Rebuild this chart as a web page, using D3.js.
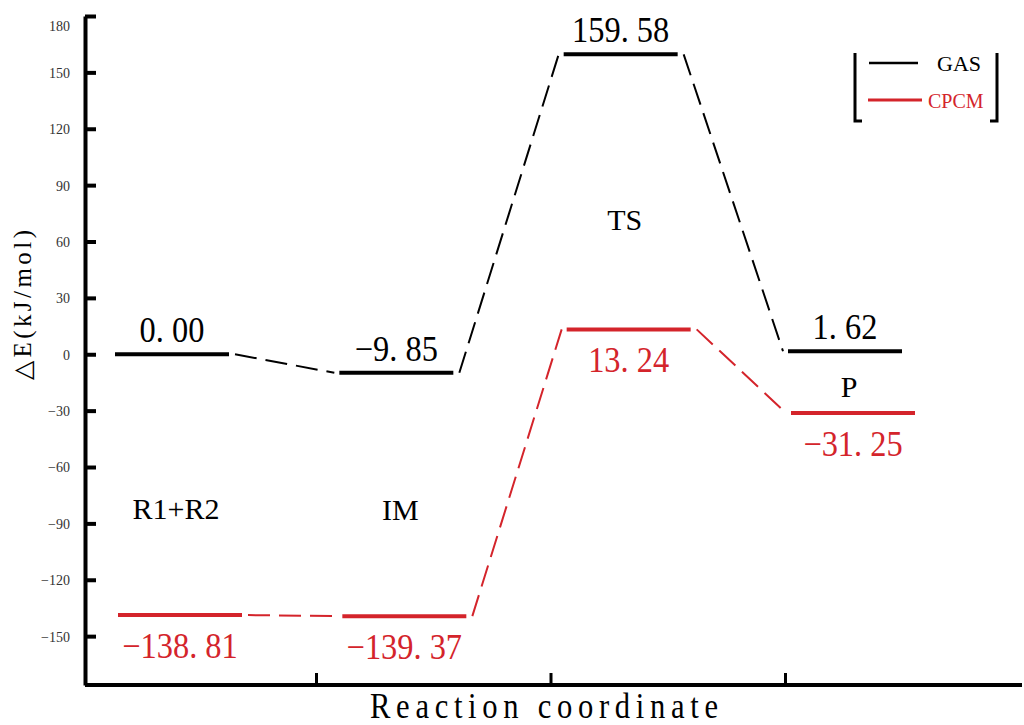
<!DOCTYPE html>
<html>
<head>
<meta charset="utf-8">
<script src="https://cdn.jsdelivr.net/npm/d3@7"></script>
<style>
body { margin: 0; background: #fff; }
</style>
</head>
<body>
<div id="wrapper"></div>
<script>
// reaction steps and energies (kJ/mol)
const steps = ["R1+R2", "IM", "TS", "P"];
const gasValues = [0.00, -9.85, 159.58, 1.62];
const cpcmValues = [-138.81, -139.37, 13.24, -31.25];
const yTicks = [-150, -120, -90, -60, -30, 0, 30, 60, 90, 120, 150, 180];
const seriesNames = ["GAS", "CPCM"];

const serif = "'Liberation Serif', 'Times New Roman', serif";

function energyDiagram() {
    const width = 1024;
    const height = 725;
    const red = "#d4242b";

    const svg = d3.select("#wrapper")
    .append("svg")
    .attr("width", width)
    .attr("height", height);

    const yScale = d3.scaleLinear()
    .domain([-176, 180])
    .range([685, 16]);

    // centres of the energy levels
    const xLevel = d3.scalePoint()
    .domain(steps)
    .range([176, 849]);

    // bands for the x axis ticks
    const xBand = d3.scaleBand()
    .domain(steps)
    .range([82, 1020]);

    const series = [
        {name: seriesNames[0], values: gasValues, color: "#000", offset: -4, half: 57, labelDy: -12},
        {name: seriesNames[1], values: cpcmValues, color: red, offset: 4, half: 62, labelDy: 43}
    ];

    // y axis
    const yAxis = d3.axisLeft(yScale)
    .tickValues(yTicks)
    .tickSize(-11)
    .tickSizeOuter(0)
    .tickPadding(15);

    const yG = svg.append("g")
    .attr("transform", "translate(85,0)")
    .call(yAxis);
    yG.select(".domain").attr("stroke", "#000").attr("stroke-width", 4);
    yG.selectAll(".tick line").attr("stroke", "#000").attr("stroke-width", 4);
    yG.selectAll(".tick text")
    .style("font-family", serif)
    .style("font-size", "14px")
    .attr("fill", "#333")
    .attr("dy", d => d === 180 ? "1.0em" : "0.35em");

    // x axis
    svg.append("line")
    .attr("x1", 85).attr("x2", 1022)
    .attr("y1", yScale.range()[0]).attr("y2", yScale.range()[0])
    .attr("stroke", "#000").attr("stroke-width", 4);

    svg.selectAll(".xtick")
    .data(steps.slice(1))
    .join("line")
    .attr("class", "xtick")
    .attr("x1", d => xBand(d)).attr("x2", d => xBand(d))
    .attr("y1", yScale.range()[0]).attr("y2", yScale.range()[0] - 12)
    .attr("stroke", "#000").attr("stroke-width", 3);

    svg.append("text")
    .attr("transform", "translate(544,718) scale(0.85,1)")
    .attr("text-anchor", "middle")
    .style("font-family", serif)
    .style("font-size", "36px")
    .attr("textLength", 348 / 0.85)
    .attr("lengthAdjust", "spacing")
    .text("Reaction coordinate");

    svg.append("text")
    .attr("transform", "translate(31,305) rotate(-90)")
    .attr("text-anchor", "middle")
    .style("font-family", serif)
    .style("font-size", "25px")
    .attr("textLength", 150)
    .attr("lengthAdjust", "spacing")
    .text("△E(kJ/mol)");

    const fmt = v => d3.format(".2f")(v).replace(/[-−]/, "\u2212").replace(".", ". ");

    series.forEach(s => {
        const g = svg.append("g");
        const levels = s.values.map((v, i) => ({
            v: v,
            x1: xLevel(steps[i]) + s.offset - s.half,
            x2: xLevel(steps[i]) + s.offset + s.half,
            y: yScale(v)
        }));

        // dashed connectors
        g.selectAll(".conn")
        .data(d3.pairs(levels))
        .join("line")
        .attr("x1", d => d[0].x2 + 6).attr("y1", d => d[0].y)
        .attr("x2", d => d[1].x1 - 5).attr("y2", d => d[1].y)
        .attr("stroke", s.color)
        .attr("stroke-width", 2)
        .attr("stroke-dasharray", "22,9");

        g.selectAll(".lvl")
        .data(levels)
        .join("line")
        .attr("x1", d => d.x1).attr("x2", d => d.x2)
        .attr("y1", d => d.y).attr("y2", d => d.y)
        .attr("stroke", s.color)
        .attr("stroke-width", 4);

        g.selectAll(".val")
        .data(levels)
        .join("text")
        .attr("transform", d => `translate(${(d.x1 + d.x2) / 2},${d.y + s.labelDy}) scale(0.9,1)`)
        .attr("text-anchor", "middle")
        .style("font-family", serif)
        .style("font-size", "36px")
        .attr("fill", s.color)
        .text(d => fmt(d.v));
    });

    // step names, placed between the two levels
    const nameShift = [24, 16, 28, 5];
    svg.selectAll(".step")
    .data(steps)
    .join("text")
    .attr("x", d => xLevel(d))
    .attr("y", (d, i) => yScale((gasValues[i] + cpcmValues[i]) / 2) + nameShift[i] + 10)
    .attr("text-anchor", "middle")
    .style("font-family", serif)
    .style("font-size", "30px")
    .text(d => d);

    // legend
    const lg = svg.append("g");
    lg.append("path")
    .attr("d", "M862,121H855V53")
    .attr("fill", "none").attr("stroke", "#000").attr("stroke-width", 3);
    lg.append("path")
    .attr("d", "M990,121H997V53")
    .attr("fill", "none").attr("stroke", "#000").attr("stroke-width", 3);
    lg.append("line")
    .attr("x1", 869).attr("x2", 918).attr("y1", 63).attr("y2", 63)
    .attr("stroke", "#000").attr("stroke-width", 2.5);
    lg.append("text")
    .attr("x", 937).attr("y", 71)
    .style("font-family", serif)
    .style("font-size", "22px")
    .text(seriesNames[0]);
    lg.append("line")
    .attr("x1", 868).attr("x2", 922).attr("y1", 100).attr("y2", 100)
    .attr("stroke", red).attr("stroke-width", 3);
    lg.append("text")
    .attr("x", 928).attr("y", 108)
    .style("font-family", serif)
    .style("font-size", "20px")
    .attr("fill", red)
    .text(seriesNames[1]);
}

energyDiagram()
</script>
</body>
</html>
